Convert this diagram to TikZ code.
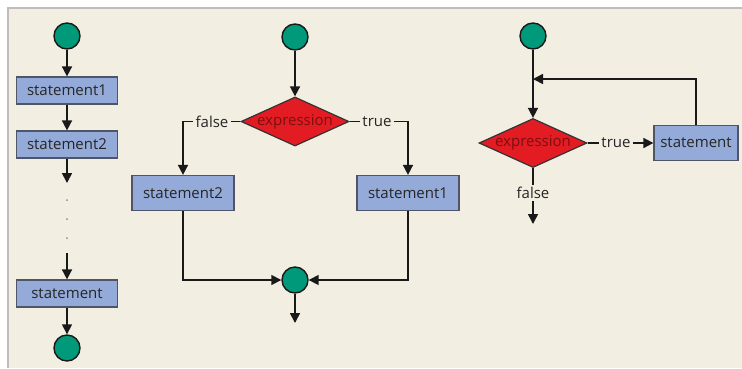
\documentclass[tikz,border=0pt]{standalone}
\usepackage{fontspec}
\setmainfont{Open Sans}
\usetikzlibrary{shapes.geometric,arrows.meta}
\definecolor{paper}{HTML}{F3EEE2}
\definecolor{rim}{HTML}{BDBDBD}
\definecolor{dotgreen}{HTML}{00997A}
\definecolor{boxblue}{HTML}{94AAD8}
\definecolor{boxedge}{HTML}{4D5566}
\definecolor{condred}{HTML}{E31B23}
\definecolor{condtext}{HTML}{7A1010}
\begin{document}
\begin{tikzpicture}[
  x=1pt, y=-1pt,
  dot/.style={circle, draw=black!90, line width=1.4pt, fill=dotgreen, minimum size=26pt, inner sep=0pt},
  stmt/.style={rectangle, draw=boxedge, line width=1.2pt, fill=boxblue, minimum width=101pt, minimum height=27pt, inner sep=0pt, text=black!85},
  tall/.style={stmt, minimum width=102pt, minimum height=35pt},
  cond/.style={diamond, aspect=2.2, draw=black!80, line width=1.2pt, fill=condred, minimum width=106pt, minimum height=48pt, inner sep=0pt, text=condtext},
  lbl/.style={inner sep=2pt, text=black!85},
  flow/.style={line width=1.6pt, black!90, -{Triangle[length=10pt,width=10pt]}},
  wire/.style={line width=1.6pt, black!90},
  font=\fontsize{15}{17}\selectfont
]
\useasboundingbox (0,0) rectangle (742,368);
\fill[paper] (8,8) rectangle (742,368);
\draw[rim, line width=1.2pt] (8,368) -- (8,8) -- (742,8);

\node[dot] (begA) at (67,36) {};
\node[stmt, below of=begA, node distance=54.5pt] (sA1) {statement1};
\node[stmt, below of=sA1, node distance=54pt] (sA2) {statement2};
\node[stmt, below of=sA2, node distance=149pt] (sA3) {statement};
\node[dot, below of=sA3, node distance=54.5pt] (endA) {};
\coordinate[below of=sA2, node distance=38.5pt] (gapA);
\coordinate[above of=sA3, node distance=40.5pt] (gapB);
\foreach \y in {200,219,238}
  \fill[black!45] (67,\y) circle (1pt);

\node[dot] (begB) at (295,37) {};
\node[cond, below of=begB, node distance=84.5pt] (condB) {expression};
\node[lbl, left of=condB, node distance=83pt] (noB) {false};
\node[lbl, right of=condB, node distance=82pt] (yesB) {true};
\node[tall] (sB2) at (183,193) {statement2};
\node[tall] (sB1) at (408,193) {statement1};
\node[dot, below of=condB, node distance=158.5pt] (joinB) {};
\coordinate[below of=joinB, node distance=43pt] (outB);

\node[dot] (begC) at (533,36) {};
\node[cond, below of=begC, node distance=107pt] (condC) {expression};
\node[lbl, right of=condC, node distance=83pt] (yesC) {true};
\node[tall, right of=condC, node distance=163pt, minimum width=84pt] (sC) {statement};
\node[lbl, below of=condC, node distance=50pt] (noC) {false};
\coordinate[below of=noC, node distance=31pt] (outC);
\coordinate[below of=begC, node distance=43pt] (backC);

\draw[flow] (begA) -- (sA1);
\draw[flow] (sA1) -- (sA2);
\draw[flow] (sA2) -- (gapA);
\draw[flow] (gapB) -- (sA3);
\draw[flow] (sA3) -- (endA);

\draw[flow] (begB) -- (condB);
\draw[wire] (condB.west) -- (noB.east);
\draw[wire] (condB.east) -- (yesB.west);
\draw[flow] (noB.west) -| (sB2.north);
\draw[flow] (yesB.east) -| (sB1.north);
\draw[flow] (sB2.south) |- (joinB.west);
\draw[flow] (sB1.south) |- (joinB.east);
\draw[flow] (joinB) -- (outB);

\draw[flow] (begC) -- (condC);
\draw[flow] (sC.north) |- (backC);
\draw[wire] (condC.east) -- (yesC.west);
\draw[flow] (yesC.east) -- (sC.west);
\draw[wire] (condC.south) -- (noC.north);
\draw[flow] (noC.south) -- (outC);
\end{tikzpicture}
\end{document}
